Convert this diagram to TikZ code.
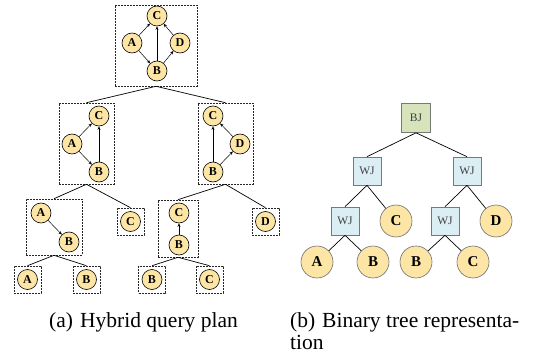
\documentclass[tikz,border=0pt]{standalone}
\usepackage{fontspec}
\setmainfont{Liberation Serif}
\usetikzlibrary{arrows.meta}
\definecolor{cfill}{RGB}{253,230,165}
\definecolor{wjfill}{RGB}{219,238,243}
\definecolor{bjfill}{RGB}{214,227,187}
\definecolor{sqdraw}{RGB}{120,120,120}
\definecolor{rcdraw}{RGB}{110,110,110}
\begin{document}
\begin{tikzpicture}[x=1pt,y=-1pt,
  lc/.style={circle, draw=black, fill=cfill, line width=0.6pt, minimum size=20pt, inner sep=0pt, font=\fontsize{12}{12}\selectfont\bfseries},
  rc/.style={circle, draw=rcdraw, fill=cfill, line width=0.6pt, minimum size=32pt, inner sep=0pt, font=\fontsize{15}{15}\selectfont\bfseries},
  dbox/.style={draw=black!85, dashed, dash pattern=on 2pt off 1pt, line width=0.6pt, inner sep=0pt, rectangle},
  sbox/.style={dbox, minimum width=27pt, minimum height=27pt},
  arr/.style={-{Stealth[length=3.5pt,width=3pt]}, line width=0.5pt},
  tedge/.style={line width=0.7pt, black},
  sq/.style={rectangle, draw=sqdraw, line width=0.6pt, minimum size=28pt, inner sep=0pt, text=black!75, font=\fontsize{11.5}{11.5}\selectfont},
  wj/.style={sq, fill=wjfill},
  bj/.style={sq, fill=bjfill, minimum size=29pt},
  captxt/.style={anchor=base west, inner sep=0pt, font=\fontsize{21.5}{24}\selectfont}
]
\useasboundingbox (0,0) rectangle (536,353);

% ---------- (a) hybrid query plan ----------
% top box
\node[dbox, minimum width=82pt, minimum height=81pt] (T) at (156,45.5) {};
\node[lc] (tC) at (157,16) {C};
\node[lc] (tA) at (132,43) {A};
\node[lc] (tD) at (180,43) {D};
\node[lc] (tB) at (157,71) {B};
\draw[arr] (tA) -- (tC);
\draw[arr] (tA) -- (tB);
\draw[arr] (tB) -- (tC);
\draw[arr] (tB) -- (tD);
\draw[arr] (tD) -- (tC);

% second level left
\node[dbox, minimum width=55pt, minimum height=81pt] (L) at (86.5,143.5) {};
\node[lc] (lC) at (99,116) {C};
\node[lc] (lA) at (72,144) {A};
\node[lc] (lB) at (99,172) {B};
\draw[arr] (lA) -- (lC);
\draw[arr] (lA) -- (lB);
\draw[arr] (lB) -- (lC);

% second level right
\node[dbox, minimum width=55pt, minimum height=81pt] (R) at (225.5,143.5) {};
\node[lc] (rC) at (213,116) {C};
\node[lc] (rD) at (240,144) {D};
\node[lc] (rB) at (213,172) {B};
\draw[arr] (rB) -- (rC);
\draw[arr] (rB) -- (rD);
\draw[arr] (rD) -- (rC);

\draw[tedge] (T.south) -- (L.north);
\draw[tedge] (T.south) -- (R.north);

% third level
\node[dbox, minimum width=56pt, minimum height=56pt] (LL) at (54,227) {};
\node[lc] (llA) at (41,213) {A};
\node[lc] (llB) at (69,242) {B};
\draw[arr] (llA) -- (llB);

\node[sbox] (Cc) at (130.5,221.5) {};
\node[lc] (ccC) at (130.5,221.5) {C};

\node[dbox, minimum width=40pt, minimum height=57pt] (RL) at (178,228.5) {};
\node[lc] (rlC) at (179,213) {C};
\node[lc] (rlB) at (179,245) {B};
\draw[arr] (rlB) -- (rlC);

\node[sbox] (Dd) at (265.5,221.5) {};
\node[lc] (ddD) at (265.5,221.5) {D};

\draw[tedge] (L.south) -- (LL.north);
\draw[tedge] (L.south) -- (Cc.north);
\draw[tedge] (R.south) -- (RL.north);
\draw[tedge] (R.south) -- (Dd.north);

% leaves
\node[sbox] (fA) at (27.5,279.5) {};
\node[lc] (fAc) at (27.5,279.5) {A};
\node[sbox] (fB) at (86.5,279.5) {};
\node[lc] (fBc) at (86.5,279.5) {B};
\node[sbox] (gB) at (152,279.5) {};
\node[lc] (gBc) at (152,279.5) {B};
\node[sbox] (gC) at (209.5,279.5) {};
\node[lc] (gCc) at (209.5,279.5) {C};

\draw[tedge] (LL.south) -- (fA.north);
\draw[tedge] (LL.south) -- (fB.north);
\draw[tedge] (RL.south) -- (gB.north);
\draw[tedge] (RL.south) -- (gC.north);

% ---------- (b) binary tree ----------
\node[bj] (BJ) at (416,118) {BJ};
\node[wj] (W1) at (367,171) {WJ};
\node[wj] (W2) at (467,171) {WJ};
\node[wj] (W3) at (345,221) {WJ};
\node[wj] (W4) at (445,221) {WJ};
\node[rc] (bC) at (396,221) {C};
\node[rc] (bD) at (496,221) {D};
\node[rc] (bA) at (317,262) {A};
\node[rc] (bB) at (373,262) {B};
\node[rc] (bB2) at (416,262) {B};
\node[rc] (bC2) at (473,262) {C};

\draw[tedge] (BJ.south) -- (W1.north);
\draw[tedge] (BJ.south) -- (W2.north);
\draw[tedge] (W1.south) -- (W3.north);
\draw[tedge] (W1.south) -- (bC);
\draw[tedge] (W2.south) -- (W4.north);
\draw[tedge] (W2.south) -- (bD);
\draw[tedge] (W3.south) -- (bA);
\draw[tedge] (W3.south) -- (bB);
\draw[tedge] (W4.south) -- (bB2);
\draw[tedge] (W4.south) -- (bC2);

% ---------- captions ----------
\node[captxt] (ca) at (49,327) {(a)};
\node[captxt] (cat) at (80,327) {Hybrid query plan};
\node[captxt] (cb) at (290,327) {(b)};
\node[captxt] (cbt) at (322,327) {Binary tree representa-};
\node[captxt] (cbt2) at (290,349) {tion};
\end{tikzpicture}
\end{document}
